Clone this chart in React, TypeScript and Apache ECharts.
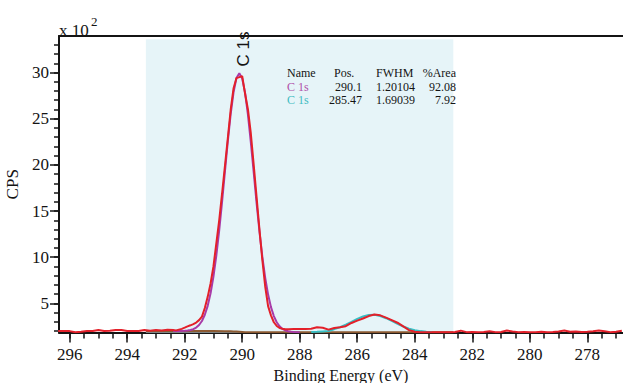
import React, { useEffect, useRef } from 'react';
import * as echarts from 'echarts';

// Binding energy (eV), counts per second — measured envelope (red)
const envelope: [number, number][] = [
  [296.4, 200], [296.2, 200], [296.0, 199], [295.8, 187], [295.6, 191], [295.4, 199], [295.2, 200],
  [295.0, 212], [294.8, 201], [294.6, 203], [294.4, 210], [294.2, 212], [294.0, 200], [293.8, 200],
  [293.6, 201], [293.4, 212], [293.2, 203], [293.0, 211], [292.8, 206], [292.6, 213],
  [292.4, 210], [292.3, 207], [292.2, 215], [292.1, 223], [292.0, 236], [291.9, 250], [291.8, 262],
  [291.7, 275], [291.6, 292], [291.5, 318], [291.4, 356], [291.3, 450], [291.2, 570], [291.1, 715],
  [291.0, 900], [290.9, 1150], [290.8, 1400], [290.7, 1690], [290.6, 1990], [290.5, 2290],
  [290.4, 2600], [290.3, 2830], [290.2, 2940], [290.1, 2950], [290.0, 2962], [289.9, 2770],
  [289.8, 2600], [289.7, 2340], [289.6, 2000], [289.5, 1650], [289.4, 1300], [289.3, 970],
  [289.2, 680], [289.1, 470], [289.0, 370], [288.9, 295], [288.8, 255], [288.7, 232], [288.6, 224],
  [288.5, 220], [288.4, 218],
  [288.2, 221], [288.0, 222], [287.8, 221], [287.6, 225], [287.4, 240], [287.2, 236], [287.0, 215],
  [286.8, 232], [286.6, 240], [286.4, 252], [286.2, 287], [286.0, 313], [285.8, 336], [285.6, 362],
  [285.4, 378], [285.2, 370], [285.0, 345], [284.8, 318], [284.6, 290], [284.4, 250], [284.2, 210],
  [284.0, 192], [283.8, 188], [283.6, 186], [283.4, 187], [283.2, 186], [283.0, 188], [282.8, 186],
  [282.6, 190], [282.4, 204], [282.2, 188], [282.0, 190],
  [281.8, 187], [281.6, 190], [281.4, 198], [281.2, 188], [281.0, 190], [280.8, 205], [280.6, 196],
  [280.4, 188], [280.2, 190], [280.0, 187], [279.8, 188], [279.6, 193], [279.4, 187], [279.2, 190],
  [279.0, 195], [278.8, 206], [278.6, 192], [278.4, 196], [278.2, 189], [278.0, 193], [277.8, 198],
  [277.6, 206], [277.4, 197], [277.2, 188], [277.0, 192], [276.8, 204],
];

// C 1s component at 290.1 eV (purple)
const component1: [number, number][] = [
  [292.4, 200], [292.2, 201], [292.0, 203], [291.9, 206], [291.8, 211], [291.7, 220], [291.6, 237],
  [291.5, 265], [291.4, 309], [291.3, 376], [291.2, 473], [291.1, 609], [291.0, 790], [290.9, 1017],
  [290.8, 1291], [290.7, 1599], [290.6, 1930], [290.5, 2256], [290.4, 2553], [290.3, 2789],
  [290.2, 2940], [290.1, 2992], [290.0, 2936], [289.9, 2780], [289.8, 2542], [289.7, 2244],
  [289.6, 1917], [289.5, 1586], [289.4, 1278], [289.3, 1004], [289.2, 776], [289.1, 595],
  [289.0, 459], [288.9, 362], [288.8, 295], [288.7, 251], [288.6, 223], [288.5, 206], [288.4, 197],
  [288.3, 192], [288.2, 189], [288.0, 186],
];

// C 1s component at 285.47 eV (cyan)
const component2: [number, number][] = [
  [287.6, 189], [287.4, 191], [287.2, 196], [287.0, 201], [286.8, 220], [286.6, 241], [286.4, 268],
  [286.2, 299], [286.0, 331], [285.8, 357], [285.6, 373], [285.4, 375], [285.2, 363], [285.0, 339],
  [284.8, 309], [284.6, 277], [284.4, 249], [284.2, 226], [284.0, 209], [283.8, 199], [283.6, 192],
  [283.4, 189],
];

// Shirley background (brown)
const background: [number, number][] = [
  [293.35, 200], [292.0, 200], [291.0, 199], [290.6, 198], [290.4, 197], [290.3, 196], [290.2, 194],
  [290.1, 192], [290.0, 190], [289.9, 188], [289.8, 187], [289.6, 186], [288.0, 186], [285.5, 186],
  [282.66, 186],
];

const regionRange = [293.35, 282.66];
const xRange = [276.76, 296.37];
const yRange = [184, 3396];
const regionTop = 3360;

const xMajorTicks = [296, 294, 292, 290, 288, 286, 284, 282, 280, 278];
const xMinorTicks = [
  296, 295.5, 295, 294.5, 294, 293.5, 293, 292.5, 292, 291.5, 291, 290.5, 290, 289.5, 289, 288.5,
  288, 287.5, 287, 286.5, 286, 285.5, 285, 284.5, 284, 283.5, 283, 282.5, 282, 281.5, 281, 280.5,
  280, 279.5, 279, 278.5, 278, 277.5, 277,
];
const yMajorTicks = [500, 1000, 1500, 2000, 2500, 3000];
const yMinorTicks = [
  200, 300, 400, 500, 600, 700, 800, 900, 1000, 1100, 1200, 1300, 1400, 1500, 1600, 1700, 1800,
  1900, 2000, 2100, 2200, 2300, 2400, 2500, 2600, 2700, 2800, 2900, 3000, 3100, 3200, 3300,
];

const tableHeader = ['Name', 'Pos.', 'FWHM', '%Area'];
const tableRows = [
  ['C 1s', '290.1', '1.20104', '92.08'],
  ['C 1s', '285.47', '1.69039', '7.92'],
];
const peakLabel = 'C 1s';

const SERIF = '"Liberation Serif", "DejaVu Serif", serif';
const SANS = '"Liberation Sans", Arial, sans-serif';
const INK = '#141414';
const RED = '#e3202a';
const PURPLE = '#a83aa8';
const CYAN = '#36bfc4';
const BROWN = '#8c5a32';
const SHADE = '#e6f4f8';
const ROW_COLORS = ['#b04fa8', '#3fbcc2'];

export default function App() {
  const ref = useRef<HTMLDivElement>(null);

  useEffect(() => {
    if (!ref.current) return;
    const chart = echarts.init(ref.current, null, { renderer: 'svg' });

    const tableTexts: any[] = [];
    const headerY = 72.5;
    const rowYs = [86.5, 100];
    const txt = (text: string, x: number, y: number, align: string, color: string) => ({
      type: 'text',
      z: 20,
      x,
      y,
      style: { text, fill: color, font: `12px ${SERIF}`, align, verticalAlign: 'middle' },
    });
    tableTexts.push(txt(tableHeader[0], 287, headerY, 'left', INK));
    tableTexts.push(txt(tableHeader[1], 334, headerY, 'left', INK));
    tableTexts.push(txt(tableHeader[2], 376, headerY, 'left', INK));
    tableTexts.push(txt(tableHeader[3], 456, headerY, 'right', INK));
    tableRows.forEach((row, i) => {
      const c = ROW_COLORS[i];
      tableTexts.push(txt(row[0], 287, rowYs[i], 'left', c));
      tableTexts.push(txt(row[1], 362, rowYs[i], 'right', INK));
      tableTexts.push(txt(row[2], 376, rowYs[i], 'left', INK));
      tableTexts.push(txt(row[3], 456, rowYs[i], 'right', INK));
    });

    const axisLineStyle = { color: INK, width: 2 };
    const tickStyle = { color: INK, width: 1.5 };

    chart.setOption({
      animation: false,
      backgroundColor: '#ffffff',
      grid: { left: 59, right: 0, top: 36, bottom: 50.5, containLabel: false, outerBoundsMode: 'none' },
      xAxis: [
        {
          type: 'value',
          inverse: true,
          min: xRange[0],
          max: xRange[1],
          position: 'bottom',
          axisLine: { show: true, onZero: false, lineStyle: axisLineStyle },
          axisTick: { show: true, customValues: xMinorTicks, length: 6, lineStyle: tickStyle },
          axisLabel: {
            show: true,
            customValues: xMajorTicks,
            fontFamily: SERIF,
            fontSize: 17,
            color: INK,
            margin: 13,
          },
          splitLine: { show: false },
          name: 'Binding Energy (eV)',
          nameLocation: 'middle',
          nameGap: 32,
          nameTextStyle: { fontFamily: SERIF, fontSize: 16, color: INK },
        },
        {
          type: 'value',
          inverse: true,
          min: xRange[0],
          max: xRange[1],
          position: 'bottom',
          axisLine: { show: false, onZero: false },
          axisTick: { show: true, customValues: xMajorTicks, length: 10, lineStyle: tickStyle },
          axisLabel: { show: false },
          splitLine: { show: false },
        },
        {
          type: 'value',
          inverse: true,
          min: xRange[0],
          max: xRange[1],
          position: 'top',
          axisLine: { show: true, onZero: false, lineStyle: axisLineStyle },
          axisTick: { show: false },
          axisLabel: { show: false },
          splitLine: { show: false },
        },
      ],
      yAxis: [
        {
          type: 'value',
          min: yRange[0],
          max: yRange[1],
          position: 'left',
          axisLine: { show: true, onZero: false, lineStyle: axisLineStyle },
          axisTick: { show: true, customValues: yMinorTicks, length: 5, lineStyle: tickStyle },
          axisLabel: {
            show: true,
            customValues: yMajorTicks,
            formatter: (v: number) => String(v / 100),
            fontFamily: SERIF,
            fontSize: 17,
            color: INK,
            margin: 10,
            padding: [0, 0, 4, 0],
          },
          splitLine: { show: false },
          name: 'CPS',
          nameLocation: 'middle',
          nameGap: 31,
          nameRotate: 90,
          nameTextStyle: { fontFamily: SERIF, fontSize: 17, color: INK },
        },
        {
          type: 'value',
          min: yRange[0],
          max: yRange[1],
          position: 'left',
          axisLine: { show: false, onZero: false },
          axisTick: { show: true, customValues: yMajorTicks, length: 9, lineStyle: tickStyle },
          axisLabel: { show: false },
          splitLine: { show: false },
        },
      ],
      graphic: [
        {
          type: 'text',
          z: 20,
          x: 59,
          y: 30,
          style: { text: 'x 10', fill: INK, font: `17px ${SERIF}`, align: 'left', verticalAlign: 'middle' },
        },
        {
          type: 'text',
          z: 20,
          x: 91,
          y: 21,
          style: { text: '2', fill: INK, font: `13px ${SERIF}`, align: 'left', verticalAlign: 'middle' },
        },
        {
          type: 'text',
          z: 20,
          x: 243,
          y: 49,
          rotation: Math.PI / 2,
          style: { text: peakLabel, fill: INK, font: `17px ${SANS}`, align: 'center', verticalAlign: 'middle' },
        },
        ...tableTexts,
      ],
      series: [
        {
          type: 'line',
          name: 'region',
          data: [],
          z: 1,
          silent: true,
          markArea: {
            silent: true,
            itemStyle: { color: SHADE },
            data: [[{ xAxis: regionRange[0], yAxis: yRange[0] }, { xAxis: regionRange[1], yAxis: regionTop }]],
          },
        },
        {
          type: 'line',
          name: 'Background',
          data: background,
          symbol: 'none',
          z: 2,
          silent: true,
          lineStyle: { color: BROWN, width: 2 },
          itemStyle: { color: BROWN },
        },
        {
          type: 'line',
          name: 'C 1s (290.1)',
          data: component1,
          symbol: 'none',
          z: 3,
          silent: true,
          lineStyle: { color: PURPLE, width: 2 },
          itemStyle: { color: PURPLE },
        },
        {
          type: 'line',
          name: 'C 1s (285.47)',
          data: component2,
          symbol: 'none',
          z: 4,
          silent: true,
          lineStyle: { color: CYAN, width: 2 },
          itemStyle: { color: CYAN },
        },
        {
          type: 'line',
          name: 'Envelope',
          data: envelope,
          symbol: 'none',
          z: 5,
          silent: true,
          lineStyle: { color: RED, width: 2 },
          itemStyle: { color: RED },
        },
      ],
    });

    return () => chart.dispose();
  }, []);

  return (
    <div
      ref={ref}
      style={{ position: 'absolute', left: 0, top: 0, width: 623, height: 383, background: '#fff' }}
    />
  );
}
